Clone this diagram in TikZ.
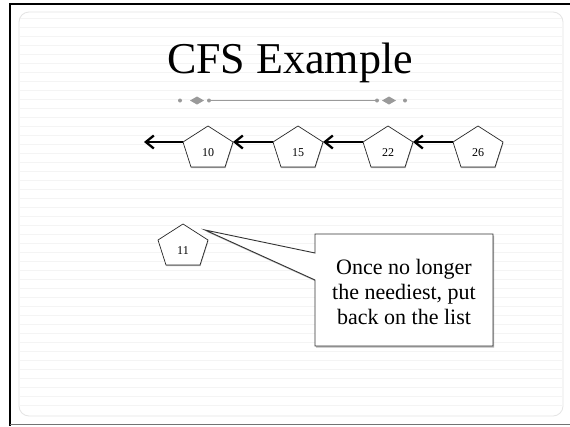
\documentclass[tikz,border=0pt]{standalone}
\usepackage{fontspec}
\setmainfont{Liberation Serif}
\usetikzlibrary{arrows.meta,shadows,backgrounds}
\definecolor{ornam}{HTML}{9A9A9A}
\definecolor{innerframe}{HTML}{E4E4E4}
\definecolor{paperline}{HTML}{F4F4F4}
\tikzset{
  pentline/.style={draw=black!85, line width=0.7pt, fill=white,
    drop shadow={shadow xshift=0.4pt, shadow yshift=-1.2pt, opacity=0.45, fill=black!70}},
  pentnum/.style={inner sep=0pt, font=\fontsize{12}{14}\selectfont},
  listarrow/.style={line width=2.3pt, -{Straight Barb[length=8pt,width=13pt,line width=2.3pt]}},
  calloutline/.style={draw=black!80, line width=0.9pt, fill=white,
    drop shadow={shadow xshift=1pt, shadow yshift=-1.5pt, opacity=0.4, fill=black!70}},
  pent/.pic={
    \draw[pentline] (0,0) -- (25,16) -- (17,41) -- (-17,41) -- (-25,16) -- cycle;
    \node[pentnum] (-c) at (0,27) {#1};
    \coordinate (-l) at (-25,16);
    \coordinate (-r) at (25,16);
  }
}
\begin{document}
\begin{tikzpicture}[x=1pt,y=-1pt]
\useasboundingbox (0,0) rectangle (570,426);
\begin{pgfonlayer}{background}
  \fill[white] (0,0) rectangle (570,426);
  \foreach \yy in {18,27,...,410} {
    \draw[paperline, line width=0.6pt] (20,\yy) -- (562,\yy);
  }
  \draw[innerframe, line width=0.8pt, rounded corners=10pt] (19,12) rectangle (563,416);
  \draw[black, line width=2pt] (570,4) -- (10,4) -- (10,426);
  \draw[black!55, line width=1.5pt] (10,424.5) -- (570,424.5);
\end{pgfonlayer}

% title
\node[anchor=base, inner sep=0pt, font=\fontsize{44}{50}\selectfont] (title) at (290,73) {CFS Example};

% ornament
\draw[ornam, line width=1pt] (209,100.5) -- (377,100.5);
\fill[ornam] (180,100.5) circle (2pt);
\fill[ornam] (209,100.5) circle (2pt);
\fill[ornam] (190,100.5) -- (197,96.5) -- (204,100.5) -- (197,104.5) -- cycle;
\fill[ornam] (377,100.5) circle (2pt);
\fill[ornam] (405,100.5) circle (2pt);
\fill[ornam] (382,100.5) -- (389,96.5) -- (396,100.5) -- (389,104.5) -- cycle;

% list of pentagons
\pic (p10) at (208,126) {pent=10};
\pic (p15) at (298,126) {pent=15};
\pic (p22) at (388,126) {pent=22};
\pic (p26) at (478,126) {pent=26};
\coordinate (listend) at (144,142);

\draw[listarrow] (p26-l) -- (p22-r);
\draw[listarrow] (p22-l) -- (p15-r);
\draw[listarrow] (p15-l) -- (p10-r);
\draw[listarrow] (p10-l) -- (listend);

% removed node
\pic (p11) at (183,224) {pent=11};

% callout
\coordinate (tip) at (205,230);
\draw[calloutline] (315,234) -- (493,234) -- (493,346) -- (315,346) -- (315,280) -- (tip) -- (315,253) -- cycle;
\node[align=center, inner sep=0pt, font=\fontsize{22}{25}\selectfont] (callout) at (404,292)
  {Once no longer\\the neediest, put\\back on the list};
\end{tikzpicture}
\end{document}
